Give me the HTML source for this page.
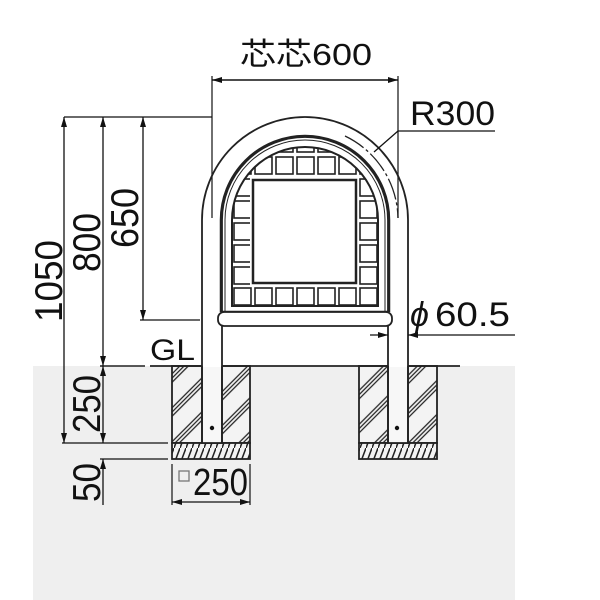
<!DOCTYPE html>
<html><head><meta charset="utf-8"><style>
html,body{margin:0;padding:0;background:#fff;}
svg{display:block;}
text{font-family:"Liberation Sans","Noto Sans CJK JP",sans-serif;fill:#111;}
</style></head><body>
<svg width="600" height="600" viewBox="0 0 600 600" xmlns="http://www.w3.org/2000/svg">
<defs>
<marker id="a" viewBox="0 0 10 6" refX="10" refY="3" markerWidth="10" markerHeight="6" orient="auto-start-reverse" markerUnits="userSpaceOnUse"><path d="M0,0 L10,3 L0,6 z" fill="#111"/></marker>
<pattern id="h" width="24" height="24" patternUnits="userSpaceOnUse" patternTransform="rotate(-45)">
<rect width="24" height="24" fill="#f3f3f3"/>
<line x1="0" y1="2" x2="24" y2="2" stroke="#222" stroke-width="1.2"/>
<line x1="0" y1="5" x2="24" y2="5" stroke="#222" stroke-width="1.2"/>
<line x1="0" y1="8" x2="24" y2="8" stroke="#222" stroke-width="1.2"/>
</pattern>
<pattern id="b" width="6" height="16" patternUnits="userSpaceOnUse">
<rect width="6" height="16" fill="#f3f3f3"/>
<path d="M0,16 L6,0" stroke="#222" stroke-width="1.5"/>
</pattern>
<clipPath id="c"><path d="M232,306 L232,220 A73,73 0 0 1 378,220 L378,306 Z"/></clipPath>
</defs>
<rect x="33" y="366" width="482" height="234" fill="#efefef"/>
<g stroke="#222" stroke-width="1.8">
<rect x="172" y="366" width="78" height="77" fill="url(#h)"/>
<rect x="172" y="443" width="78" height="16" fill="url(#b)"/>
<rect x="359" y="366" width="78" height="77" fill="url(#h)"/>
<rect x="359" y="443" width="78" height="16" fill="url(#b)"/>
</g>
<line x1="100" y1="366" x2="145" y2="366" stroke="#222" stroke-width="1.5"/>
<line x1="150" y1="366" x2="460" y2="366" stroke="#222" stroke-width="1.8"/>
<g stroke="#222" stroke-width="1.8" fill="#fff">
<path d="M202,443 L202,220 A103,103 0 0 1 408,220 L408,443 L388,443 L388,220 A83,83 0 0 0 222,220 L222,443 Z"/>
</g>
<rect x="203" y="367" width="18" height="75" fill="#f7f7f7"/>
<rect x="389" y="367" width="18" height="75" fill="#f7f7f7"/>
<line x1="202" y1="366" x2="202" y2="443" stroke="#222" stroke-width="1.8"/>
<line x1="222" y1="366" x2="222" y2="443" stroke="#222" stroke-width="1.8"/>
<line x1="388" y1="366" x2="388" y2="443" stroke="#222" stroke-width="1.8"/>
<line x1="408" y1="366" x2="408" y2="443" stroke="#222" stroke-width="1.8"/>
<circle cx="212" cy="428" r="2.2" fill="#111"/>
<circle cx="397" cy="428" r="2.2" fill="#111"/>
<path d="M221,312 L221,220 A84,84 0 0 1 389,220 L389,312" fill="none" stroke="#222" stroke-width="2.5"/>
<path d="M225,312 L225,220 A80,80 0 0 1 385,220 L385,312" fill="none" stroke="#222" stroke-width="1"/>
<path d="M232,306 L232,220 A73,73 0 0 1 378,220 L378,306 Z" fill="none" stroke="#222" stroke-width="2"/>
<g clip-path="url(#c)" stroke="#222" stroke-width="1.6" fill="none">
<g id="row">
<rect x="234" y="0" width="17" height="17"/><rect x="255" y="0" width="17" height="17"/><rect x="276" y="0" width="17" height="17"/><rect x="297" y="0" width="17" height="17"/><rect x="318" y="0" width="17" height="17"/><rect x="339" y="0" width="17" height="17"/><rect x="360" y="0" width="17" height="17"/>
</g>
<use href="#row" y="135"/><use href="#row" y="157"/><use href="#row" y="179"/><use href="#row" y="201"/><use href="#row" y="223"/><use href="#row" y="245"/><use href="#row" y="267"/><use href="#row" y="288"/>
</g>
<rect x="250" y="177" width="109" height="109" fill="#fff"/>
<rect x="253" y="180" width="103" height="103" fill="#fff" stroke="#222" stroke-width="2.5"/>
<line x1="221" y1="312" x2="389" y2="312" stroke="#222" stroke-width="2.5"/>
<rect x="218" y="312" width="174" height="14" rx="6" fill="#fff" stroke="#222" stroke-width="1.8"/>
<line x1="212" y1="76" x2="212" y2="218" stroke="#222" stroke-width="1.3"/>
<line x1="398" y1="76" x2="398" y2="218" stroke="#222" stroke-width="1.3"/>
<path d="M345,136 A93,93 0 0 1 398,218" fill="none" stroke="#222" stroke-width="1.3" stroke-dasharray="22,3,3,3"/>
<line x1="212" y1="80" x2="398" y2="80" stroke="#111" stroke-width="1.5" marker-start="url(#a)" marker-end="url(#a)"/>
<text x="240" y="65" font-size="31" textLength="132" lengthAdjust="spacingAndGlyphs">芯芯600</text>
<polyline points="374,152 398,131 495,131" fill="none" stroke="#111" stroke-width="1.3"/>
<text x="410" y="125" font-size="34" textLength="85" lengthAdjust="spacingAndGlyphs">R300</text>
<line x1="370" y1="335" x2="388" y2="335" stroke="#111" stroke-width="1.2" marker-end="url(#a)"/>
<line x1="515" y1="335" x2="408" y2="335" stroke="#111" stroke-width="1.2" marker-end="url(#a)"/>
<text x="410" y="326" font-size="34" font-style="italic">ϕ</text><text x="435" y="326" font-size="34" textLength="75" lengthAdjust="spacingAndGlyphs">60.5</text>
<line x1="64" y1="117" x2="212" y2="117" stroke="#111" stroke-width="1.3"/>
<line x1="64" y1="117" x2="64" y2="443" stroke="#111" stroke-width="1.3" marker-start="url(#a)" marker-end="url(#a)"/>
<line x1="103" y1="117" x2="103" y2="366" stroke="#111" stroke-width="1.3" marker-start="url(#a)" marker-end="url(#a)"/>
<line x1="143" y1="117" x2="143" y2="320" stroke="#111" stroke-width="1.3" marker-start="url(#a)" marker-end="url(#a)"/>
<line x1="140" y1="320" x2="200" y2="320" stroke="#111" stroke-width="1.3"/>
<line x1="103" y1="366" x2="103" y2="443" stroke="#111" stroke-width="1.3" marker-start="url(#a)" marker-end="url(#a)"/>
<line x1="62" y1="443" x2="168" y2="443" stroke="#111" stroke-width="1.3"/>
<line x1="100" y1="459" x2="168" y2="459" stroke="#111" stroke-width="1.3"/>
<line x1="103" y1="505" x2="103" y2="459" stroke="#111" stroke-width="1.3" marker-end="url(#a)"/>
<text x="150" y="360" font-size="30" textLength="45" lengthAdjust="spacingAndGlyphs">GL</text>
<text transform="translate(62,322) rotate(-90)" font-size="39" textLength="82" lengthAdjust="spacingAndGlyphs">1050</text>
<text transform="translate(100,272) rotate(-90)" font-size="39" textLength="59" lengthAdjust="spacingAndGlyphs">800</text>
<text transform="translate(138,248) rotate(-90)" font-size="39" textLength="60" lengthAdjust="spacingAndGlyphs">650</text>
<text transform="translate(100,433) rotate(-90)" font-size="39" textLength="58" lengthAdjust="spacingAndGlyphs">250</text>
<text transform="translate(100,502) rotate(-90)" font-size="39" textLength="39" lengthAdjust="spacingAndGlyphs">50</text>
<line x1="172" y1="464" x2="172" y2="505" stroke="#111" stroke-width="1.2"/>
<line x1="250" y1="464" x2="250" y2="505" stroke="#111" stroke-width="1.2"/>
<line x1="172" y1="502" x2="250" y2="502" stroke="#111" stroke-width="1.2" marker-start="url(#a)" marker-end="url(#a)"/>
<rect x="179" y="471" width="10" height="10" fill="none" stroke="#777" stroke-width="1.3"/>
<text x="193" y="495" font-size="38" textLength="55" lengthAdjust="spacingAndGlyphs">250</text>
</svg>
</body></html>
